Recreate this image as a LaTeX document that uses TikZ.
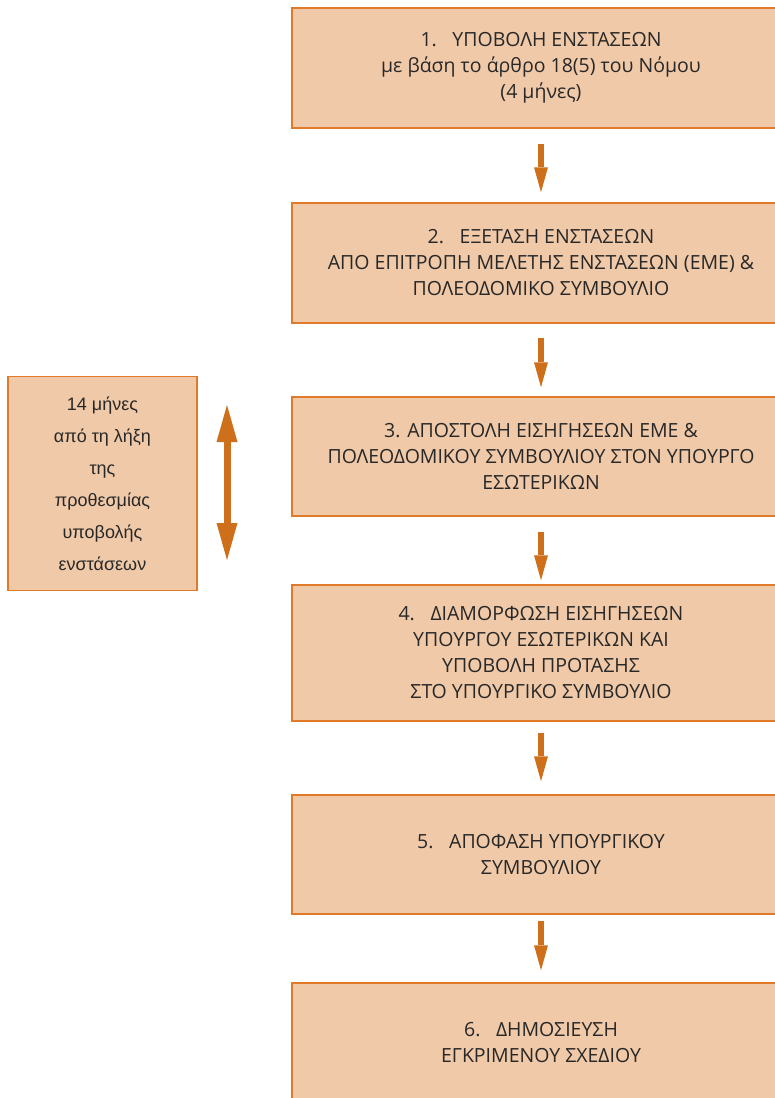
\documentclass[tikz,border=0pt]{standalone}
\usepackage{fontspec}
\setmainfont{Open Sans}
\newfontfamily\notefont{Liberation Sans}
\usetikzlibrary{arrows.meta}

\definecolor{boxfill}{RGB}{240,201,168}
\definecolor{boxline}{RGB}{224,122,40}
\definecolor{arrowcol}{RGB}{205,111,27}
\definecolor{textcol}{RGB}{40,40,40}

\newcommand{\numgap}{\hspace{0.8em}}

\tikzset{
	stepbox/.style={ rectangle
	               , draw=boxline
	               , fill=boxfill
	               , line width=1.5pt
	               , minimum width=498pt
	               , inner sep=0pt
	               , align=center
	               , text=textcol
	               , font=\fontsize{19.5}{26}\selectfont},
	notebox/.style={ rectangle
	               , draw=boxline
	               , fill=boxfill
	               , line width=1.5pt
	               , minimum width=189pt
	               , minimum height=214pt
	               , inner sep=0pt
	               , align=center
	               , text=textcol
	               , font=\notefont\fontsize{18}{32}\selectfont},
	flowarrow/.style={ draw=arrowcol
	                 , line width=6pt
	                 , -{Triangle[length=25pt,width=14pt,line width=0pt]}},
	spanarrow/.style={ draw=arrowcol
	                 , line width=7pt
	                 , {Triangle[length=37pt,width=21pt,line width=0pt]}-{Triangle[length=37pt,width=21pt,line width=0pt]}}
}

\begin{document}
\begin{tikzpicture}[x=1pt, y=-1pt]
	\clip (0, 0)
	      rectangle
	      (775, 1098);
	
	% Steps of the procedure
	\foreach \i/\y/\h/\txt in {
		1/68/120/{1.\numgap ΥΠΟΒΟΛΗ ΕΝΣΤΑΣΕΩΝ\\με βάση το άρθρο 18(5) του Νόμου\\(4 μήνες)},
		2/263/120/{2.\numgap ΕΞΕΤΑΣΗ ΕΝΣΤΑΣΕΩΝ\\ΑΠΟ ΕΠΙΤΡΟΠΗ ΜΕΛΕΤΗΣ ΕΝΣΤΑΣΕΩΝ (ΕΜΕ) \&\\ΠΟΛΕΟΔΟΜΙΚΟ ΣΥΜΒΟΥΛΙΟ},
		3/456.5/119/{3. ΑΠΟΣΤΟΛΗ ΕΙΣΗΓΗΣΕΩΝ ΕΜΕ \&\\ΠΟΛΕΟΔΟΜΙΚΟΥ ΣΥΜΒΟΥΛΙΟΥ ΣΤΟΝ ΥΠΟΥΡΓΟ\\ΕΣΩΤΕΡΙΚΩΝ},
		4/653/136/{4.\numgap ΔΙΑΜΟΡΦΩΣΗ ΕΙΣΗΓΗΣΕΩΝ\\ΥΠΟΥΡΓΟΥ ΕΣΩΤΕΡΙΚΩΝ ΚΑΙ\\ΥΠΟΒΟΛΗ ΠΡΟΤΑΣΗΣ\\ΣΤΟ ΥΠΟΥΡΓΙΚΟ ΣΥΜΒΟΥΛΙΟ},
		5/854.5/119/{5.\numgap ΑΠΟΦΑΣΗ ΥΠΟΥΡΓΙΚΟΥ\\ΣΥΜΒΟΥΛΙΟΥ},
		6/1043/120/{6.\numgap ΔΗΜΟΣΙΕΥΣΗ\\ΕΓΚΡΙΜΕΝΟΥ ΣΧΕΔΙΟΥ}}{
		\node (box\i) at (541, \y)
		      [ stepbox
		      , minimum height=\h pt]
		      {\txt};
	}
	
	% Arrows between steps
	\foreach \a/\b/\s/\e in {1/2/15/10, 2/3/14/9, 3/4/15/4, 4/5/11/13, 5/6/6/12}{
		\draw [flowarrow, shorten <=\s pt, shorten >=\e pt] (box\a) -- (box\b);
	}
	
	% Time span on the left
	\node (span) at (102.5, 483.5) [notebox]
	      {14 μήνες\\από τη λήξη\\της\\προθεσμίας\\υποβολής\\ενστάσεων};
	\coordinate (spantop) at (227, 405);
	\coordinate (spanbot) at (227, 560);
	\draw [spanarrow] (spantop) -- (spanbot);
\end{tikzpicture}
\end{document}
